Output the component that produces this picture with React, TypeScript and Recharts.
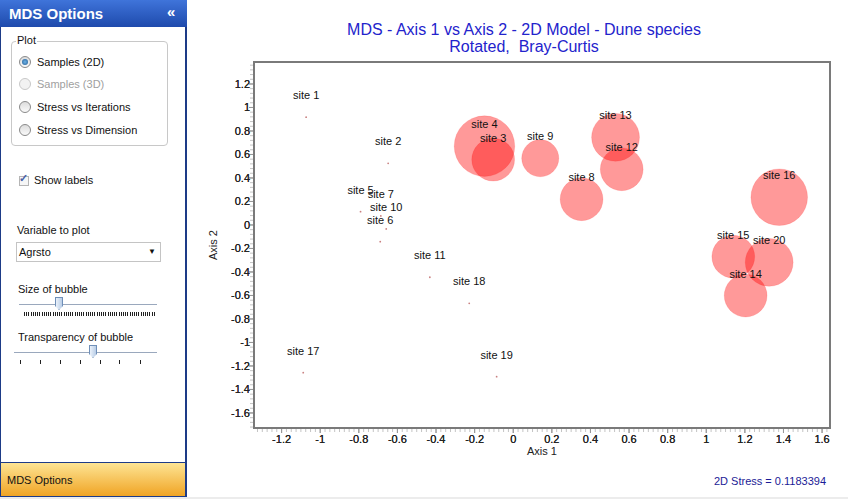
import { ScatterChart, Scatter, XAxis, YAxis, ZAxis, ReferenceArea, Label } from 'recharts';

// MDS site scores (Axis 1, Axis 2) and Agrsto abundance per site
const siteNames = [
  'site 1', 'site 2', 'site 3', 'site 4', 'site 5', 'site 6', 'site 7', 'site 8', 'site 9', 'site 10',
  'site 11', 'site 12', 'site 13', 'site 14', 'site 15', 'site 16', 'site 17', 'site 18', 'site 19', 'site 20',
];
const axis1 = [
  -1.073, -0.648, -0.104, -0.149, -0.791, -0.689, -0.686, 0.354, 0.14, -0.658,
  -0.432, 0.562, 0.53, 1.204, 1.14, 1.378, -1.088, -0.228, -0.086, 1.326,
];
const axis2 = [
  0.917, 0.525, 0.556, 0.671, 0.113, -0.142, 0.077, 0.219, 0.568, -0.034,
  -0.445, 0.474, 0.746, -0.601, -0.27, 0.236, -1.257, -0.667, -1.291, -0.318,
];
const agrsto = [0, 0, 4, 8, 0, 0, 0, 4, 3, 0, 0, 4, 5, 4, 4, 7, 0, 0, 0, 5];

const xTickLabels = [-1.2, -1, -0.8, -0.6, -0.4, -0.2, 0, 0.2, 0.4, 0.6, 0.8, 1, 1.2, 1.4, 1.6];
const yTickLabels = [-1.6, -1.4, -1.2, -1, -0.8, -0.6, -0.4, -0.2, 0, 0.2, 0.4, 0.6, 0.8, 1, 1.2];

const X_DOMAIN: [number, number] = [-1.343, 1.641];
const Y_DOMAIN: [number, number] = [-1.728, 1.387];

// minor tick marks between the labelled ticks
const xMinor = Array.from({ length: 119 }, (_, i) => +(-1.325 + i * 0.025).toFixed(3));
const yMinor = Array.from({ length: 78 }, (_, i) => +(-1.72 + i * 0.04).toFixed(3));

const data = siteNames.map((name, i) => ({ name, x: axis1[i], y: axis2[i], z: agrsto[i] }));

const FONT = '"Liberation Sans", Arial, sans-serif';
const isMajor = (v: number) => Math.abs(v / 0.2 - Math.round(v / 0.2)) < 1e-6;
const fmt = (v: number) => String(Math.round(v * 10) / 10);

function XTick(props: any) {
  const { x, y, payload } = props;
  const major = isMajor(payload.value);
  return (
    <g>
      <line x1={x} x2={x} y1={y + 1} y2={y + (major ? 5 : 4)} stroke={major ? '#999' : '#c4c4c4'} />
      {major && (
        <text x={x} y={y + 15} textAnchor="middle" fontSize={11} fontFamily={FONT} fill="#222">
          {fmt(payload.value)}
        </text>
      )}
    </g>
  );
}

function YTick(props: any) {
  const { x, y, payload } = props;
  const major = isMajor(payload.value);
  return (
    <g>
      <line x1={x - (major ? 5 : 4)} x2={x - 1} y1={y} y2={y} stroke={major ? '#999' : '#c4c4c4'} />
      {major && (
        <text x={x - 4} y={y + 4} textAnchor="end" fontSize={11} fontFamily={FONT} fill="#222">
          {fmt(payload.value)}
        </text>
      )}
    </g>
  );
}

function Bubble(props: any) {
  const { cx, cy, width } = props;
  const r = (width || 0) / 2;
  if (r < 0.5) return <circle cx={cx} cy={cy} r={0.9} fill="#c98080" />;
  return <circle cx={cx} cy={cy} r={r} fill="#ff0000" fillOpacity={0.4} stroke="#ff0000" strokeOpacity={0.12} />;
}

function SiteLabel(props: any) {
  const { cx, cy, payload } = props;
  return (
    <text x={cx} y={cy - 18} textAnchor="middle" fontSize={11} fontFamily={FONT} fill="#111">
      {payload.name}
    </text>
  );
}

function Radio({ y, label, checked, disabled }: { y: number; label: string; checked?: boolean; disabled?: boolean }) {
  return (
    <div style={{ position: 'absolute', left: 19, top: y - 7, height: 14, display: 'flex', alignItems: 'center' }}>
      <div
        style={{
          width: 12, height: 12, borderRadius: 7, border: '1px solid ' + (disabled ? '#c8c8c8' : '#8a8a8a'),
          background: disabled ? '#f2f2f2' : 'linear-gradient(#dcdcdc, #fafafa)', position: 'relative', boxSizing: 'border-box',
        }}
      >
        {checked && (
          <div style={{ position: 'absolute', left: 2, top: 2, width: 6, height: 6, borderRadius: 3, background: 'radial-gradient(#6fb3e6, #1f5a94)' }} />
        )}
      </div>
      <span style={{ marginLeft: 6, fontSize: 11, color: disabled ? '#a0a0a0' : '#111' }}>{label}</span>
    </div>
  );
}

function Thumb({ x, y }: { x: number; y: number }) {
  return (
    <div
      style={{
        position: 'absolute', left: x - 4, top: y - 7, width: 8, height: 13,
        background: 'linear-gradient(90deg, #eaf1fa, #b9cde6)', border: '1px solid #6f8fb8', boxSizing: 'border-box',
        clipPath: 'polygon(0 0, 100% 0, 100% 70%, 50% 100%, 0 70%)',
      }}
    />
  );
}

function OptionsPanel() {
  const txt = { position: 'absolute' as const, fontSize: 11, color: '#111' };
  return (
    <div style={{ position: 'absolute', left: 0, top: 0, width: 187, height: 497, fontFamily: FONT, background: '#fff' }}>
      <div style={{ position: 'absolute', inset: 0, borderLeft: '1px solid #1d3b87', borderRight: '2px solid #1d3b87', borderBottom: '1px solid #1d3b87' }} />
      <div
        style={{
          position: 'absolute', left: 0, top: 0, width: 187, height: 27,
          background: 'linear-gradient(#3f74da, #1e4aac)', color: '#fff',
        }}
      >
        <span style={{ position: 'absolute', left: 9, top: 5, fontSize: 15, fontWeight: 'bold' }}>MDS Options</span>
        <span style={{ position: 'absolute', left: 167, top: 3, fontSize: 15, fontWeight: 'bold' }}>«</span>
      </div>

      <div style={{ position: 'absolute', left: 11, top: 41, width: 157, height: 105, border: '1px solid #c8c8c8', borderRadius: 4, boxSizing: 'border-box' }} />
      <span style={{ ...txt, left: 16, top: 34, background: '#fff', padding: '0 1px' }}>Plot</span>
      <Radio y={62} label="Samples (2D)" checked />
      <Radio y={84} label="Samples (3D)" disabled />
      <Radio y={107} label="Stress vs Iterations" />
      <Radio y={130} label="Stress vs Dimension" />

      <div style={{ position: 'absolute', left: 19, top: 176, width: 10, height: 10, border: '1px solid #b5b5b5', background: '#f6f6f6', boxSizing: 'border-box' }} />
      <span style={{ position: 'absolute', left: 19, top: 172, fontSize: 11, color: '#4a64a8', fontWeight: 'bold' }}>✓</span>
      <span style={{ ...txt, left: 34, top: 174 }}>Show labels</span>

      <span style={{ ...txt, left: 17, top: 224 }}>Variable to plot</span>
      <div style={{ position: 'absolute', left: 16, top: 242, width: 145, height: 20, border: '1px solid #c4c4c4', boxSizing: 'border-box' }}>
        <span style={{ position: 'absolute', left: 2, top: 3, fontSize: 11, color: '#111' }}>Agrsto</span>
        <span style={{ position: 'absolute', left: 131, top: 4, fontSize: 8, color: '#111' }}>▼</span>
      </div>

      <span style={{ ...txt, left: 18, top: 283 }}>Size of bubble</span>
      <div style={{ position: 'absolute', left: 19, top: 304, width: 138, height: 1, background: '#9aa8bd' }} />
      <div style={{ position: 'absolute', left: 24, top: 312, width: 131, height: 4, background: 'repeating-linear-gradient(90deg, #222 0 1px, transparent 1px 2.2px)' }} />
      <Thumb x={59} y={304} />

      <span style={{ ...txt, left: 18, top: 331 }}>Transparency of bubble</span>
      <div style={{ position: 'absolute', left: 14, top: 352, width: 143, height: 1, background: '#9aa8bd' }} />
      {[20, 40, 60, 80, 100, 119, 140].map((x) => (
        <div key={x} style={{ position: 'absolute', left: x, top: 360, width: 1, height: 4, background: '#222' }} />
      ))}
      <Thumb x={93} y={352} />

      <div
        style={{
          position: 'absolute', left: 1, top: 462, width: 184, height: 34,
          borderTop: '1px solid #1d3b87', background: 'linear-gradient(#fde494, #f0a424)', boxSizing: 'border-box',
        }}
      >
        <span style={{ position: 'absolute', left: 6, top: 11, fontSize: 11, color: '#111' }}>MDS Options</span>
      </div>
    </div>
  );
}

export default function App() {
  return (
    <div style={{ position: 'absolute', left: 0, top: 0, width: 848, height: 499, background: '#fff', overflow: 'hidden', fontFamily: FONT }}>
      <OptionsPanel />

      <div
        style={{
          position: 'absolute', left: 274, top: 21, width: 500, textAlign: 'center',
          fontSize: 16, lineHeight: '17px', color: '#2323cc',
        }}
      >
        MDS - Axis 1 vs Axis 2 - 2D Model - Dune species
        <br />
        Rotated,&nbsp; Bray-Curtis
      </div>

      <div style={{ position: 'absolute', left: 190, top: 0 }}>
        <ScatterChart width={658} height={499} margin={{ top: 62, right: 18, bottom: 0, left: 0 }}>
          <XAxis
            type="number"
            dataKey="x"
            domain={X_DOMAIN}
            ticks={[...xMinor, ...xTickLabels]}
            interval={0}
            allowDataOverflow
            axisLine={false}
            tickLine={false}
            tickSize={0}
            tickMargin={0}
            height={71}
            tick={<XTick />}
          >
            <Label value="Axis 1" position="insideTop" offset={19} fontSize={11} fill="#222" />
          </XAxis>
          <YAxis
            type="number"
            dataKey="y"
            domain={Y_DOMAIN}
            ticks={[...yMinor, ...yTickLabels]}
            interval={0}
            allowDataOverflow
            axisLine={false}
            tickLine={false}
            tickSize={0}
            tickMargin={0}
            width={64}
            tick={<YTick />}
          >
            <Label value="Axis 2" angle={-90} position="center" dx={-9} fontSize={11} fill="#222" />
          </YAxis>
          <ZAxis type="number" dataKey="z" domain={[0, 8]} range={[0, 2877]} />
          <ReferenceArea
            x1={X_DOMAIN[0]}
            x2={X_DOMAIN[1]}
            y1={Y_DOMAIN[0]}
            y2={Y_DOMAIN[1]}
            fill="none"
            stroke="#7a7a7a"
            strokeWidth={2}
            ifOverflow="visible"
          />
          <Scatter data={data} shape={Bubble} isAnimationActive={false} />
          <Scatter data={data} shape={SiteLabel} isAnimationActive={false} />
        </ScatterChart>
      </div>

      <div style={{ position: 'absolute', left: 626, top: 475, width: 200, textAlign: 'right', fontSize: 11, color: '#1b1b96' }}>
        2D Stress = 0.1183394
      </div>
      <div style={{ position: 'absolute', left: 0, top: 497, width: 848, height: 2, background: '#ececec' }} />
    </div>
  );
}
